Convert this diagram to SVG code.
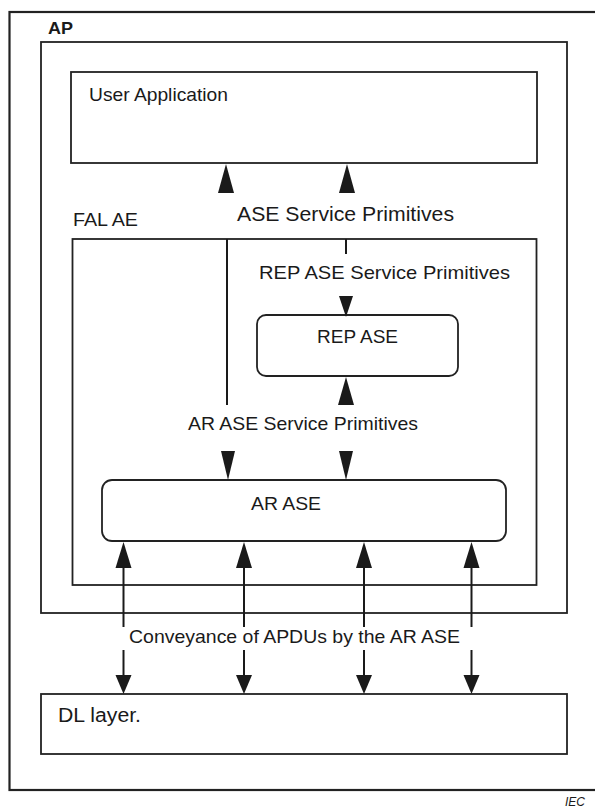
<svg xmlns="http://www.w3.org/2000/svg" width="595" height="809" viewBox="0 0 595 809">
<style>
.box{fill:#fff;stroke:#222;stroke-width:1.8}
.frame{fill:none;stroke:#222;stroke-width:2.2}
.t{font-family:"Liberation Sans",Arial,sans-serif;fill:#1a1a1a}
.ln{stroke:#1a1a1a;stroke-width:2;fill:none}
.ah{fill:#1a1a1a}
</style>
<rect width="595" height="809" fill="#fff"/>
<g id="outer"><rect class="frame" x="9.5" y="12" width="600" height="778"/></g>
<g id="ap">
<rect class="box" x="41" y="42" width="526" height="571"/>
<text class="t" x="48" y="34" font-size="17" font-weight="bold" textLength="25" lengthAdjust="spacingAndGlyphs">AP</text>
</g>
<g id="user-application">
<rect class="box" x="71" y="72" width="466" height="91"/>
<text class="t" x="89" y="100.5" font-size="19" textLength="139" lengthAdjust="spacingAndGlyphs">User Application</text>
</g>
<g id="fal-ae">
<rect class="box" x="72.5" y="239" width="464" height="346"/>
<text class="t" x="73" y="226" font-size="18.5" textLength="65" lengthAdjust="spacingAndGlyphs">FAL AE</text>
</g>
<g id="rep-ase">
<rect class="box" x="257" y="315" width="201" height="61" rx="9"/>
<text class="t" x="317" y="343" font-size="18" textLength="81" lengthAdjust="spacingAndGlyphs">REP ASE</text>
</g>
<g id="ar-ase">
<rect class="box" x="102" y="480" width="404" height="61" rx="10"/>
<text class="t" x="251" y="510" font-size="19" textLength="70" lengthAdjust="spacingAndGlyphs">AR ASE</text>
</g>
<g id="dl-layer">
<rect class="box" x="41" y="694" width="526" height="60"/>
<text class="t" x="58" y="722" font-size="20" textLength="83" lengthAdjust="spacingAndGlyphs">DL layer.</text>
</g>
<g id="connectors">
<polygon class="ah" points="226,164 218,193 234,193"/>
<polygon class="ah" points="347,164 339,193 355,193"/>
<line class="ln" x1="227" y1="239" x2="227" y2="405"/>
<line class="ln" x1="346" y1="239" x2="346" y2="254"/>
<polygon class="ah" points="346,317 339,296 353,296"/>
<polygon class="ah" points="346,377 338,405 354,405"/>
<polygon class="ah" points="228,480 221,451 235,451"/>
<polygon class="ah" points="346,480 339,451 353,451"/>
<g id="apdu-up">
<polygon class="ah" points="123.5,542 115.5,568 131.5,568"/>
<polygon class="ah" points="244,542 236,568 252,568"/>
<polygon class="ah" points="364,542 356,568 372,568"/>
<polygon class="ah" points="471.5,542 463.5,568 479.5,568"/>
<line class="ln" x1="123.5" y1="566" x2="123.5" y2="627"/>
<line class="ln" x1="244" y1="566" x2="244" y2="627"/>
<line class="ln" x1="364" y1="566" x2="364" y2="627"/>
<line class="ln" x1="471.5" y1="566" x2="471.5" y2="627"/>
</g>
<g id="apdu-down">
<line class="ln" x1="123.5" y1="650" x2="123.5" y2="677"/>
<line class="ln" x1="244" y1="650" x2="244" y2="677"/>
<line class="ln" x1="364" y1="650" x2="364" y2="677"/>
<line class="ln" x1="471.5" y1="650" x2="471.5" y2="677"/>
<polygon class="ah" points="123.5,694 115.5,675 131.5,675"/>
<polygon class="ah" points="244,694 236,675 252,675"/>
<polygon class="ah" points="364,694 356,675 372,675"/>
<polygon class="ah" points="471.5,694 463.5,675 479.5,675"/>
</g>
</g>
<g id="labels">
<text class="t" x="237" y="221" font-size="21" textLength="217" lengthAdjust="spacingAndGlyphs">ASE Service Primitives</text>
<text class="t" x="259" y="279" font-size="18.5" textLength="251" lengthAdjust="spacingAndGlyphs">REP ASE Service Primitives</text>
<text class="t" x="188" y="430" font-size="19" textLength="230" lengthAdjust="spacingAndGlyphs">AR ASE Service Primitives</text>
<text class="t" x="129" y="643" font-size="18.5" textLength="331" lengthAdjust="spacingAndGlyphs">Conveyance of APDUs by the AR ASE</text>
<text class="t" x="565" y="806" font-size="12" font-style="italic">IEC</text>
</g>
</svg>
